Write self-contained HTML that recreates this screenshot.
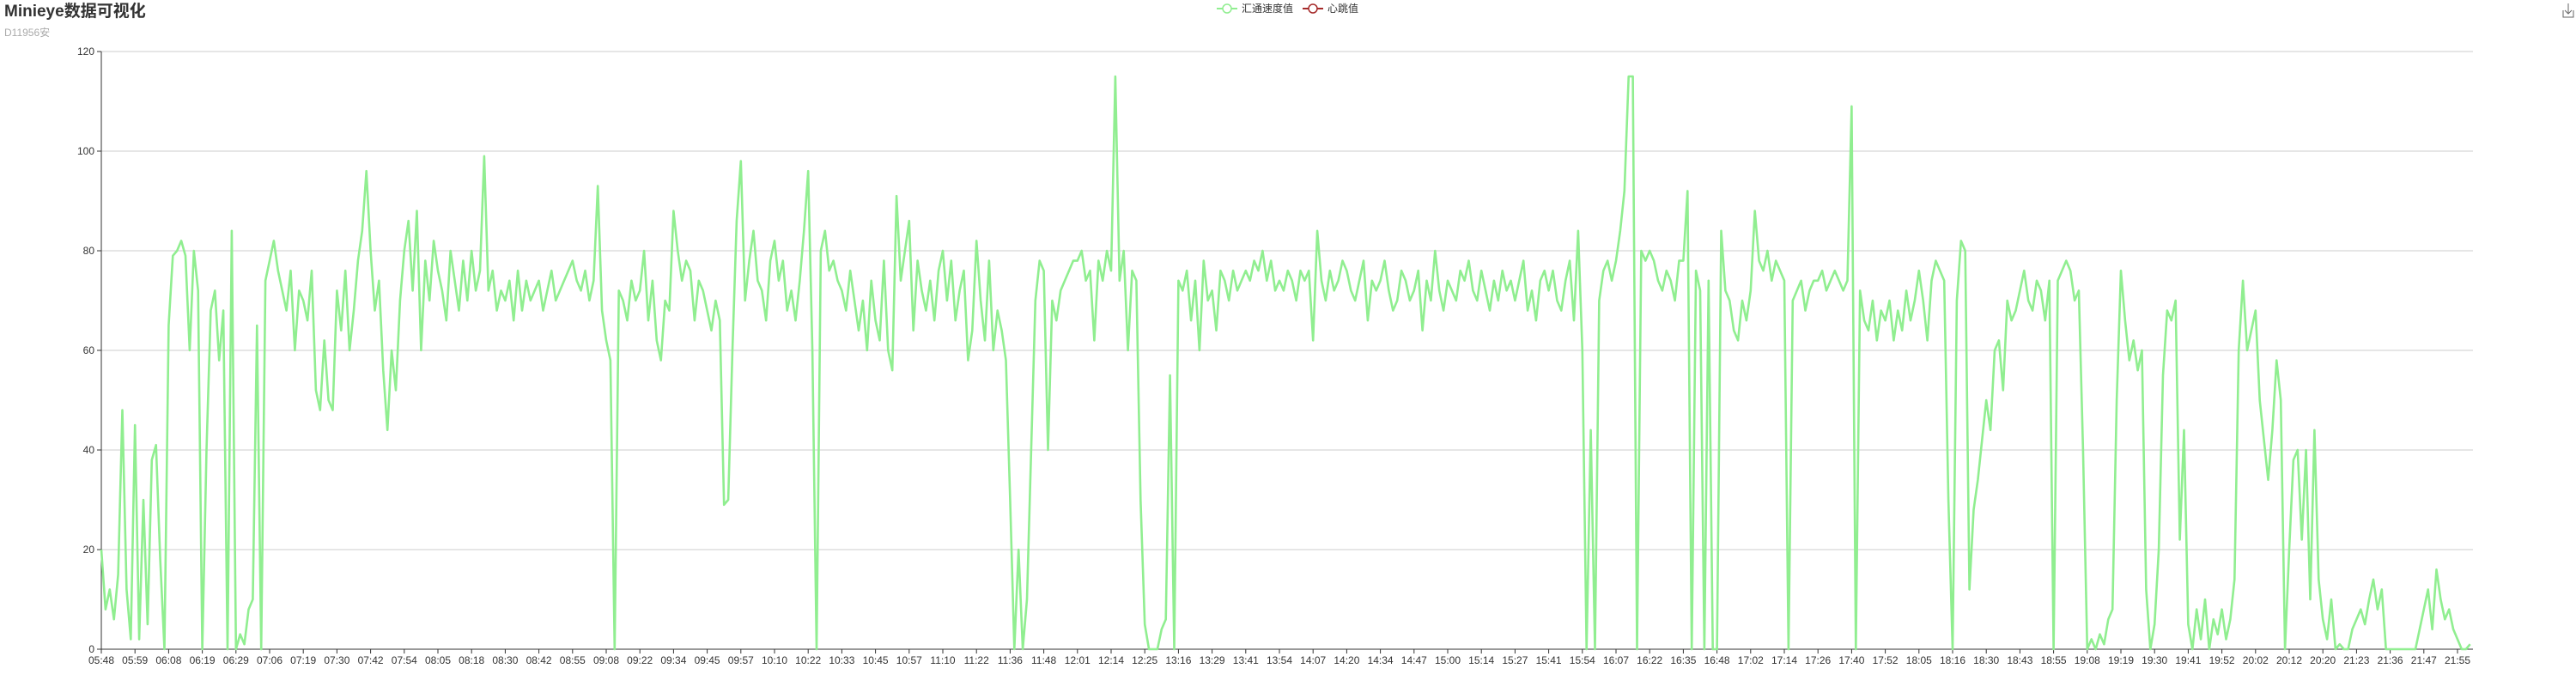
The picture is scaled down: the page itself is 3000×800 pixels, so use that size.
<!DOCTYPE html>
<html><head><meta charset="utf-8"><style>
html,body{margin:0;padding:0;background:#fff;width:3000px;height:800px;overflow:hidden}
svg text{font-family:"Liberation Sans","Noto Sans CJK SC",sans-serif}
</style></head><body>
<svg id="chart" width="3000" height="800" xmlns="http://www.w3.org/2000/svg">
<text x="5" y="19" font-size="19" font-weight="bold" fill="#333">Minieye数据可视化</text>
<text x="5" y="42" font-size="12" fill="#aaa">D11956安</text>
<g>
<g>
<line x1="1417" y1="10" x2="1441" y2="10" stroke="#90ee90" stroke-width="2"/>
<circle cx="1429" cy="10" r="5" fill="#fff" stroke="#90ee90" stroke-width="1.5"/>
<text x="1446" y="14" font-size="12" fill="#333">汇通速度值</text></g>
<g>
<line x1="1517" y1="10" x2="1541" y2="10" stroke="#a52a2a" stroke-width="2"/>
<circle cx="1529" cy="10" r="5" fill="#fff" stroke="#a52a2a" stroke-width="1.5"/>
<text x="1546" y="14" font-size="12" fill="#333">心跳值</text></g>
</g>
<g stroke="#666" stroke-width="1" fill="none">
<path d="M2985 12 v8 h12 v-8"/><path d="M2991 4 v12 M2987 12 l4 4 l4 -4"/>
</g>
<g id="grid"></g><g id="axes"></g><g id="series"></g>
</svg>
<script>
const yTicks=[0,20,40,60,80,100,120];
const xLabels=["05:48","05:59","06:08","06:19","06:29","07:06","07:19","07:30","07:42","07:54","08:05","08:18","08:30","08:42","08:55","09:08","09:22","09:34","09:45","09:57","10:10","10:22","10:33","10:45","10:57","11:10","11:22","11:36","11:48","12:01","12:14","12:25","13:16","13:29","13:41","13:54","14:07","14:20","14:34","14:47","15:00","15:14","15:27","15:41","15:54","16:07","16:22","16:35","16:48","17:02","17:14","17:26","17:40","17:52","18:05","18:16","18:30","18:43","18:55","19:08","19:19","19:30","19:41","19:52","20:02","20:12","20:20","21:23","21:36","21:47","21:55"];
const speedValues=[
20,8,12,6,15,48,12,2, 45,2,30,5,38,41,18,0, 65,79,80,82,79,60,80,72, 0,40,68,72,58,68,0,84,
0,3,1,8,10,65,0,74, 78,82,76,72,68,76,60,72, 70,66,76,52,48,62,50,48, 72,64,76,60,68,78,84,96,
80,68,74,56,44,60,52,70, 80,86,72,88,60,78,70,82, 76,72,66,80,74,68,78,70, 80,72,76,99,72,76,68,72,
70,74,66,76,68,74,70,72, 74,68,72,76,70,72,74,76, 78,74,72,76,70,74,93,68, 62,58,0,72,70,66,74,70,
72,80,66,74,62,58,70,68, 88,80,74,78,76,66,74,72, 68,64,70,66,29,30,60,86, 98,70,78,84,74,72,66,78,
82,74,78,68,72,66,74,84, 96,60,0,80,84,76,78,74, 72,68,76,70,64,70,60,74, 66,62,78,60,56,91,74,80,
86,64,78,72,68,74,66,76, 80,70,78,66,72,76,58,64, 82,70,62,78,60,68,64,58, 30,0,20,0,10,40,70,78,
76,40,70,66,72,74,76,78, 78,80,74,76,62,78,74,80, 76,115,74,80,60,76,74,30, 5,0,0,0,4,6,55,0,
74,72,76,66,74,60,78,70, 72,64,76,74,70,76,72,74, 76,74,78,76,80,74,78,72, 74,72,76,74,70,76,74,76,
62,84,74,70,76,72,74,78, 76,72,70,74,78,66,74,72, 74,78,72,68,70,76,74,70, 72,76,64,74,70,80,72,68,
74,72,70,76,74,78,72,70, 76,72,68,74,70,76,72,74, 70,74,78,68,72,66,74,76, 72,76,70,68,74,78,66,84,
60,0,44,0,70,76,78,74, 78,84,92,115,115,0,80,78, 80,78,74,72,76,74,70,78, 78,92,0,76,72,0,74,0,
0,84,72,70,64,62,70,66, 72,88,78,76,80,74,78,76, 74,0,70,72,74,68,72,74, 74,76,72,74,76,74,72,74,
109,0,72,66,64,70,62,68, 66,70,62,68,64,72,66,70, 76,70,62,74,78,76,74,30, 0,70,82,80,12,28,34,42,
50,44,60,62,52,70,66,68, 72,76,70,68,74,72,66,74, 0,74,76,78,76,70,72,40, 0,2,0,3,1,6,8,50,
76,66,58,62,56,60,12,0, 5,20,55,68,66,70,22,44, 5,0,8,2,10,0,6,3, 8,2,6,14,60,74,60,64,
68,50,42,34,44,58,50,0, 20,38,40,22,40,10,44,14, 6,2,10,0,1,0,0,4, 6,8,5,10,14,8,12,0,
0,0,0,0,0,0,0,4, 8,12,4,16,10,6,8,4, 2,0,0,1];
const pointsPerLabel=8;
const L=118,R=2880,T=60,B=756,ymax=120;
const step=39.2/pointsPerLabel;
function xPos(i){return L+i*step;}
function yPos(v){return B-(v/ymax)*(B-T);}
const NS="http://www.w3.org/2000/svg";
const grid=document.getElementById('grid'),axes=document.getElementById('axes'),series=document.getElementById('series');
function mk(t,a,p){const e=document.createElementNS(NS,t);for(const k in a)e.setAttribute(k,a[k]);p.appendChild(e);return e;}
yTicks.forEach(v=>{
 const y=yPos(v);
 if(v>0){const g=mk('line',{x1:L,x2:R,y1:y,y2:y,stroke:'#ccc','stroke-width':1},grid);
 
 }
 const tk=mk('line',{x1:L-5,x2:L,y1:y,y2:y,stroke:'#333','stroke-width':1},axes);
 
 
 const t=mk('text',{x:L-8,y:y+4,'font-size':12,fill:'#333','text-anchor':'end'},axes);
 t.textContent=v;
 
 
});
const ya=mk('line',{x1:L,x2:L,y1:T,y2:B,stroke:'#333','stroke-width':1},axes);


const xa=mk('line',{x1:L,x2:R,y1:B,y2:B,stroke:'#333','stroke-width':1},axes);


xLabels.forEach((lab,k)=>{
 const x=xPos(k*pointsPerLabel);
 const tk=mk('line',{x1:x,x2:x,y1:B,y2:B+5,stroke:'#333','stroke-width':1},axes);
 
 
 const t=mk('text',{x:x,y:B+17,'font-size':12,fill:'#333','text-anchor':'middle'},axes);
 t.textContent=lab;
 
 
});
const d=speedValues.map((v,i)=>(i?'L':'M')+xPos(i).toFixed(1)+' '+yPos(v).toFixed(1)).join(' ');
const p=mk('path',{d:d,fill:'none',stroke:'#90ee90','stroke-width':2.6,'stroke-linejoin':'round'},series);


</script>
</body></html>
